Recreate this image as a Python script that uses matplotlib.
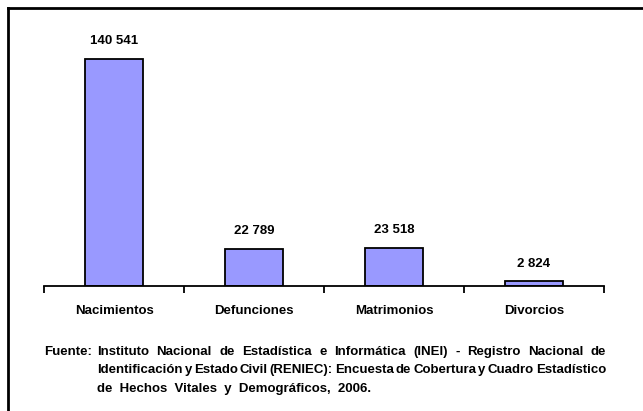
import matplotlib
matplotlib.use('Agg')
import matplotlib.pyplot as plt
from matplotlib.lines import Line2D

categories = ['Nacimientos', 'Defunciones', 'Matrimonios', 'Divorcios']
values = [140541, 22789, 23518, 2824]

source_lines = [
    'Instituto Nacional de Estadística e Informática (INEI) - Registro Nacional de',
    'Identificación y Estado Civil (RENIEC): Encuesta de Cobertura y Cuadro Estadístico',
    'de Hechos Vitales y Demográficos, 2006.',
]

plt.rcParams['font.family'] = ['Liberation Sans', 'DejaVu Sans']

W, H = 643, 411
fig = plt.figure(figsize=(W / 100, H / 100), dpi=100)
ax = fig.add_axes([44 / W, 1 - 286 / H, 560 / W, 256 / H])

x = list(range(len(categories)))
bars = ax.bar(x, values, width=0.41, color='#9999FF', edgecolor='black', linewidth=1.3, zorder=2)
for b, v in zip(bars, values):
    ax.annotate('{:,}'.format(v).replace(',', ' '),
                (b.get_x() + b.get_width() / 2, b.get_height()),
                xytext=(0, 8.5), textcoords='offset points',
                ha='center', va='bottom', fontsize=9.5, fontweight='bold')

ax.set_xlim(-0.5, len(categories) - 0.5)
ax.set_ylim(0, 256 * values[0] / 227)
for s in ['top', 'right', 'left']:
    ax.spines[s].set_visible(False)
ax.spines['bottom'].set_linewidth(1.3)
ax.set_yticks([])

ax.set_xticks([i - 0.5 for i in range(len(categories) + 1)])
ax.set_xticklabels([])
ax.tick_params(axis='x', which='major', length=5, width=1.3, direction='out')
ax.set_xticks(x, minor=True)
ax.set_xticklabels(categories, minor=True, fontsize=9.5, fontweight='bold')
ax.tick_params(axis='x', which='minor', length=0, pad=14)

# source note, first two lines justified between x=97 and x=606
fig.text(44 / W, 1 - 352 / H, 'Fuente:', fontsize=9.5, fontweight='bold', va='center', ha='left')
ys = [352, 370, 389]
renderer = fig.canvas.get_renderer()
x0, x1 = 97, 606
for i, (line, yy) in enumerate(zip(source_lines, ys)):
    if i == len(source_lines) - 1:
        fig.text(x0 / W, 1 - yy / H, line.replace(' ', '  '), fontsize=9.5, fontweight='bold',
                 va='center', ha='left')
        continue
    words = line.split(' ')
    objs = [fig.text(0, 1 - yy / H, w, fontsize=9.5, fontweight='bold', va='center', ha='left')
            for w in words]
    widths = [t.get_window_extent(renderer).width for t in objs]
    gap = (x1 - x0 - sum(widths)) / (len(words) - 1)
    pos = x0
    for t, wd in zip(objs, widths):
        t.set_x(pos / W)
        pos += wd + gap

# frame lines (top and left)
fig.add_artist(Line2D([8 / W, 1], [1 - 8 / H, 1 - 8 / H], transform=fig.transFigure, color='black', linewidth=2))
fig.add_artist(Line2D([8 / W, 8 / W], [1 - 8 / H, 0], transform=fig.transFigure, color='black', linewidth=2))

fig.savefig('out.png', dpi=100)
